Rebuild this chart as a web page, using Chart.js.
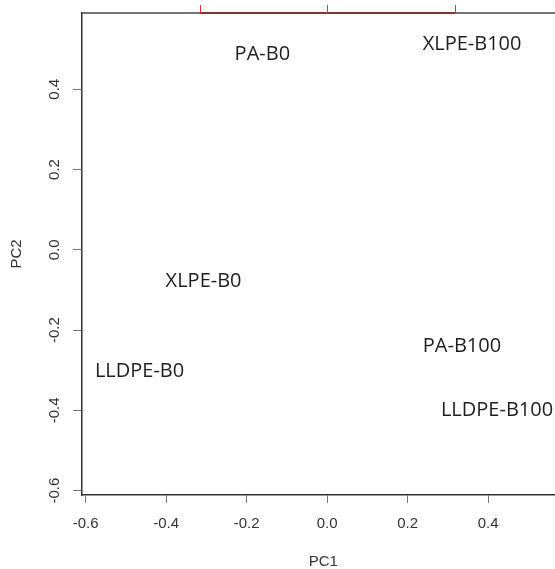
<!DOCTYPE html>
<html>
<head>
<meta charset="utf-8">
<script src="https://cdn.jsdelivr.net/npm/chart.js@4.4.1/dist/chart.umd.min.js"></script>
<style>
  html, body { margin: 0; padding: 0; background: #fff; }
  #wrap { width: 555px; height: 569px; }
</style>
</head>
<body>
<div id="wrap"><canvas id="pca"></canvas></div>
<script>
// sample scores on the first two components
var samples = ['PA-B0', 'XLPE-B100', 'XLPE-B0', 'LLDPE-B0', 'PA-B100', 'LLDPE-B100'];
var pc1 = [-0.161, 0.360, -0.307, -0.466, 0.335, 0.422];
var pc2 = [0.488, 0.511, -0.078, -0.302, -0.240, -0.399];

var xTicks = [-0.6, -0.4, -0.2, 0.0, 0.2, 0.4];
var yTicks = [-0.6, -0.4, -0.2, 0.0, 0.2, 0.4];
// loading axis ticks along the top, in PC1 units
var loadingTicks = [-0.316, 0.0, 0.318];

var xLim = [-0.609, 0.59];   // full plot region (right side runs off the canvas)
var xShown = 0.566;
var yLim = [-0.611, 0.59];

var axisFont = '15px "Liberation Sans", Arial, sans-serif';

var biplotDecor = {
  id: 'biplotDecor',
  afterDatasetsDraw: function (chart) {
    var ctx = chart.ctx, area = chart.chartArea;
    var xs = chart.scales.x, ys = chart.scales.y;
    ctx.save();

    // sample names at their scores
    var meta = chart.getDatasetMeta(0);
    ctx.font = '20px "Open Sans", "Noto Sans", sans-serif';
    ctx.fillStyle = '#1e1e1e';
    ctx.textAlign = 'center';
    ctx.textBaseline = 'middle';
    meta.data.forEach(function (pt, i) {
      ctx.fillText(samples[i], pt.x, pt.y);
    });

    // top of the box
    ctx.strokeStyle = '#444';
    ctx.lineWidth = 1.5;
    ctx.beginPath();
    ctx.moveTo(area.left, area.top);
    ctx.lineTo(area.right, area.top);
    ctx.stroke();

    // red loading axis on top
    var rx0 = xs.getPixelForValue(loadingTicks[0]);
    var rx1 = xs.getPixelForValue(loadingTicks[loadingTicks.length - 1]);
    ctx.strokeStyle = '#8c2020';
    ctx.beginPath();
    ctx.moveTo(rx0, area.top);
    ctx.lineTo(rx1, area.top);
    ctx.stroke();
    ctx.strokeStyle = '#f03030';
    ctx.lineWidth = 1;
    loadingTicks.forEach(function (v) {
      var px = Math.round(xs.getPixelForValue(v)) + 0.5;
      ctx.beginPath();
      ctx.moveTo(px, area.top - 8);
      ctx.lineTo(px, area.top);
      ctx.stroke();
    });

    // tick labels
    ctx.font = axisFont;
    ctx.fillStyle = '#333';
    ctx.textAlign = 'center';
    ctx.textBaseline = 'middle';
    xTicks.forEach(function (v) {
      ctx.fillText(v.toFixed(1), xs.getPixelForValue(v), area.bottom + 29);
    });
    yTicks.forEach(function (v) {
      ctx.save();
      ctx.translate(55, ys.getPixelForValue(v));
      ctx.rotate(-Math.PI / 2);
      ctx.fillText(v.toFixed(1), 0, 0);
      ctx.restore();
    });

    // axis titles
    ctx.fillText('PC1', xs.getPixelForValue((xLim[0] + xLim[1]) / 2), area.bottom + 67);
    ctx.save();
    ctx.translate(17, ys.getPixelForValue((yLim[0] + yLim[1]) / 2));
    ctx.rotate(-Math.PI / 2);
    ctx.fillText('PC2', 0, 0);
    ctx.restore();

    ctx.restore();
  }
};

var points = pc1.map(function (v, i) { return { x: v, y: pc2[i] }; });

new Chart(document.getElementById('pca'), {
  type: 'scatter',
  data: {
    datasets: [{ data: points, pointRadius: 0, pointHoverRadius: 0 }]
  },
  options: {
    responsive: true,
    maintainAspectRatio: false,
    animation: false,
    events: [],
    layout: { padding: { top: 13, right: 0, left: 0, bottom: 0 } },
    plugins: { legend: { display: false }, tooltip: { enabled: false } },
    scales: {
      x: {
        type: 'linear',
        min: xLim[0],
        max: xShown,
        afterBuildTicks: function (s) { s.ticks = xTicks.map(function (v) { return { value: v }; }); },
        afterFit: function (s) { s.height = 74; },
        ticks: { display: false },
        grid: { drawOnChartArea: false, drawTicks: true, tickLength: 8, color: '#777', lineWidth: 1 },
        border: { display: true, color: '#333', width: 1.5 }
      },
      y: {
        type: 'linear',
        min: yLim[0],
        max: yLim[1],
        afterBuildTicks: function (s) { s.ticks = yTicks.map(function (v) { return { value: v }; }); },
        afterFit: function (s) { s.width = 82; },
        ticks: { display: false },
        grid: { drawOnChartArea: false, drawTicks: true, tickLength: 9, color: '#777', lineWidth: 1 },
        border: { display: true, color: '#333', width: 1.5 }
      }
    }
  },
  plugins: [biplotDecor]
});
</script>
</body>
</html>
